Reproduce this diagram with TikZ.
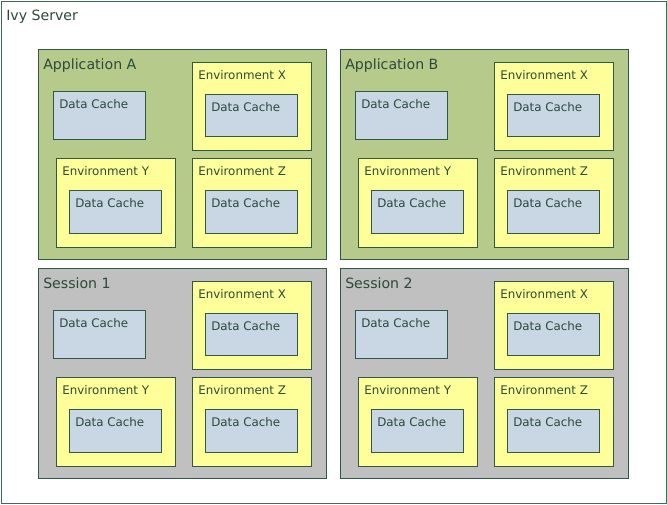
\documentclass[tikz,border=0pt]{standalone}
\usepackage{fontspec}
\setmainfont{DejaVu Sans}
\definecolor{bord}{HTML}{2E5A45}
\definecolor{outerbord}{HTML}{3F6B55}
\definecolor{appgreen}{HTML}{B6CB8B}
\definecolor{sessgray}{HTML}{C0C0C0}
\definecolor{envyellow}{HTML}{FFFF99}
\definecolor{cacheblue}{HTML}{C9D6E3}
\definecolor{txt}{HTML}{2C4A3A}
\tikzset{
  box/.style={draw=bord, line width=0.8pt, inner sep=0pt, anchor=north west},
  outerbox/.style={box, draw=outerbord, fill=white},
  appbox/.style={box, fill=appgreen},
  sessbox/.style={box, fill=sessgray},
  envbox/.style={box, fill=envyellow},
  cachebox/.style={box, fill=cacheblue},
  lbl/.style={anchor=base west, inner sep=0pt, text=txt, font=\fontsize{8.9}{10}\selectfont},
  ttl/.style={anchor=base west, inner sep=0pt, text=txt, font=\fontsize{10.6}{12}\selectfont},
}
\newcommand\pbox[6]{\node[#2, minimum width={(#5)*0.75pt}, minimum height={(#6)*0.75pt}] (#1) at ({#3},{#4}) {};}
\newcommand\plabel[2]{\node[lbl] (#1-t) at ([shift={(6,17)}]#1.north west) {#2};}
\newcommand\envgrp[5]{% name, label, x, y, h
  \pbox{#1}{envbox}{#3}{#4}{119}{#5}
  \plabel{#1}{#2}
  \pbox{#1-dc}{cachebox}{#3+13}{#4+32}{92}{#5-46}
  \plabel{#1-dc}{Data Cache}
}
\newcommand\grp[5]{% name, style, title, x, y
  \pbox{#1}{#2}{#4}{#5}{288}{210}
  \node[ttl] (#1-t) at ([shift={(5,20)}]#1.north west) {#3};
  \pbox{#1-dc}{cachebox}{#4+15}{#5+42}{92}{48}
  \plabel{#1-dc}{Data Cache}
  \envgrp{#1-ex}{Environment X}{#4+154}{#5+13}{88}
  \envgrp{#1-ey}{Environment Y}{#4+18}{#5+109}{89}
  \envgrp{#1-ez}{Environment Z}{#4+154}{#5+109}{89}
}
\begin{document}
\begin{tikzpicture}[x=0.75pt, y=-0.75pt]
  \useasboundingbox (0,0) rectangle (667,504);
  \pbox{srv}{outerbox}{1}{1}{665}{502}
  \node[ttl] (srv-t) at (6,20) {Ivy Server};
  \grp{appA}{appbox}{Application A}{38}{49}
  \grp{appB}{appbox}{Application B}{340}{49}
  \grp{ses1}{sessbox}{Session 1}{38}{268}
  \grp{ses2}{sessbox}{Session 2}{340}{268}
\end{tikzpicture}
\end{document}
